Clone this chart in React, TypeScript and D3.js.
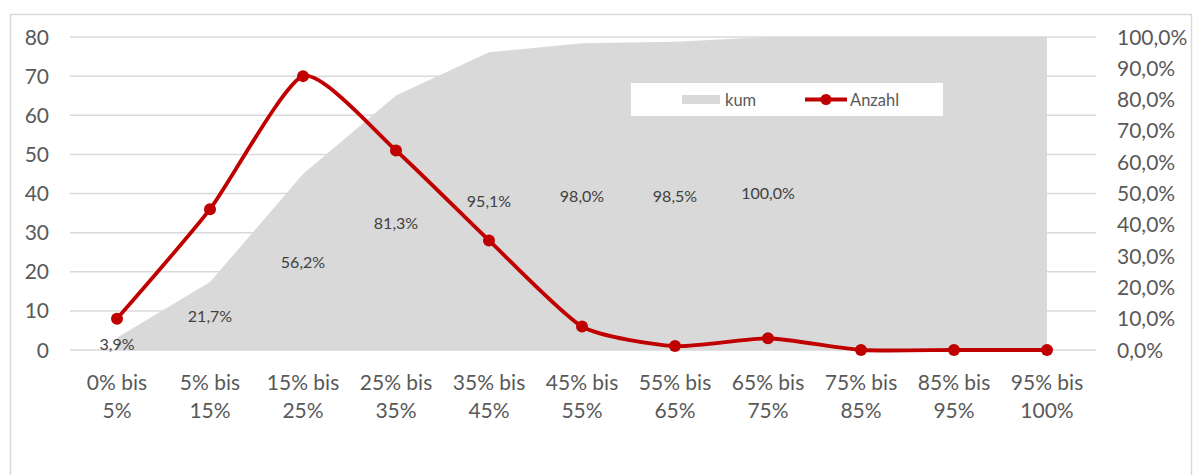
import React from "react";
import * as d3 from "d3";

// Category bins and the two series
const categories: string[][] = [
  ["0% bis", "5%"],
  ["5% bis", "15%"],
  ["15% bis", "25%"],
  ["25% bis", "35%"],
  ["35% bis", "45%"],
  ["45% bis", "55%"],
  ["55% bis", "65%"],
  ["65% bis", "75%"],
  ["75% bis", "85%"],
  ["85% bis", "95%"],
  ["95% bis", "100%"],
];
const anzahl: number[] = [8, 36, 70, 51, 28, 6, 1, 3, 0, 0, 0];
const kum: number[] = [0.039, 0.217, 0.562, 0.813, 0.951, 0.98, 0.985, 1.0, 1.0, 1.0, 1.0];
const kumLabelShown: boolean[] = [true, true, true, true, true, true, true, true, false, false, false];
const leftTicks: number[] = [0, 10, 20, 30, 40, 50, 60, 70, 80];
const rightTicks: number[] = [0, 0.1, 0.2, 0.3, 0.4, 0.5, 0.6, 0.7, 0.8, 0.9, 1.0];

const W = 1199;
const H = 475;
const FONT = "Lato, 'Open Sans', sans-serif";
const RED = "#c00000";
const GREY = "#d9d9d9";
const TEXT = "#595959";

const pct = (v: number) => d3.format(".1%")(v).replace(".", ",");

export default function App() {
  const keys = categories.map((_, i) => String(i));
  const x = d3.scaleBand<string>().domain(keys).range([70.5, 1093.5]).padding(0);
  const cx = (i: number) => (x(String(i)) as number) + x.bandwidth() / 2;
  const yL = d3.scaleLinear().domain([0, 80]).range([350, 37]);
  const yR = d3.scaleLinear().domain([0, 1]).range([350, 37]);

  const area = d3
    .area<number>()
    .x((_, i) => cx(i))
    .y0(yR(0))
    .y1((d) => yR(d))(kum) as string;

  const line = d3
    .line<number>()
    .x((_, i) => cx(i))
    .y((d) => yL(d))
    .curve(d3.curveCardinal.tension(0.4))(anzahl) as string;

  return (
    <svg
      width={W}
      height={H}
      style={{ position: "absolute", left: 0, top: 0, background: "#fff" }}
      fontFamily={FONT}
    >
      <rect x={10.5} y={14.5} width={1181} height={480} fill="#fff" stroke={GREY} strokeWidth={1.5} />

      {/* cumulative share area (right axis) */}
      <path d={area} fill={GREY} />

      {/* gridlines of the left axis */}
      {leftTicks.map((t) => (
        <line key={t} x1={70} x2={1096} y1={yL(t)} y2={yL(t)} stroke={GREY} strokeWidth={1.5} />
      ))}

      {/* left axis labels */}
      {leftTicks.map((t) => (
        <text key={t} x={49} y={yL(t)} dy="0.36em" textAnchor="end" fontSize={21} fill={TEXT}>
          {t}
        </text>
      ))}

      {/* right axis labels */}
      {rightTicks.map((t) => (
        <text key={t} x={1117} y={yR(t)} dy="0.36em" textAnchor="start" fontSize={21} fill={TEXT}>
          {pct(t)}
        </text>
      ))}

      {/* category labels */}
      {categories.map((c, i) => (
        <text key={i} x={cx(i)} textAnchor="middle" fontSize={21} fill={TEXT}>
          <tspan x={cx(i)} y={390}>{c[0]}</tspan>
          <tspan x={cx(i)} y={418}>{c[1]}</tspan>
        </text>
      ))}

      {/* cumulative data labels, centred in the area */}
      {kum.map((v, i) =>
        kumLabelShown[i] ? (
          <text key={i} x={cx(i)} y={yR(v / 2)} dy="0.36em" textAnchor="middle" fontSize={16} fill="#404040">
            {pct(v)}
          </text>
        ) : null
      )}

      {/* count line */}
      <path d={line} fill="none" stroke={RED} strokeWidth={3.8} strokeLinejoin="round" />
      {anzahl.map((v, i) => (
        <circle key={i} cx={cx(i)} cy={yL(v)} r={6} fill={RED} />
      ))}

      {/* legend */}
      <g>
        <rect x={631} y={83} width={312} height={33} fill="#fff" />
        <rect x={682} y={95} width={38} height={9} fill={GREY} />
        <text x={725} y={100} dy="0.36em" fontSize={16.5} fill={TEXT}>kum</text>
        <line x1={805} x2={847} y1={99.5} y2={99.5} stroke={RED} strokeWidth={3.8} />
        <circle cx={826} cy={99.5} r={5.5} fill={RED} />
        <text x={850} y={100} dy="0.36em" fontSize={16.5} fill={TEXT}>Anzahl</text>
      </g>
    </svg>
  );
}
